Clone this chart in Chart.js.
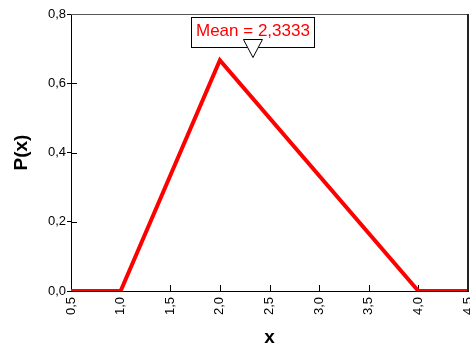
<!DOCTYPE html>
<html>
<head>
<meta charset="utf-8">
<script src="https://cdn.jsdelivr.net/npm/chart.js@4/dist/chart.umd.min.js"></script>
<style>
  html, body { margin: 0; padding: 0; background: #fff; }
  #c { display: block; }
</style>
</head>
<body>
<canvas id="c" width="470" height="347"></canvas>
<script>
// Triangular distribution: a = 1, c = 2, b = 4
const xValues = [0.5, 1.0, 2.0, 4.0, 4.5];
const probValues = [0, 0, 0.6667, 0, 0];
const xTickValues = [0.5, 1.0, 1.5, 2.0, 2.5, 3.0, 3.5, 4.0, 4.5];
const yTickValues = [0.0, 0.2, 0.4, 0.6, 0.8];
const meanValue = 2.3333;

const FONT = '"Liberation Sans", Arial, sans-serif';
const fmt = (v, d) => Number(v).toFixed(d).replace('.', ',');

// Inner tick marks and the top/right frame of the plot box
const framePlugin = {
  id: 'frame',
  beforeDatasetsDraw(chart) {
    const { ctx, chartArea: a, scales: { x, y } } = chart;
    ctx.save();
    ctx.strokeStyle = '#000';
    ctx.lineWidth = 1;
    ctx.beginPath();
    yTickValues.forEach(v => {
      const py = Math.round(y.getPixelForValue(v)) + 0.5;
      ctx.moveTo(a.left, py);
      ctx.lineTo(a.left + 6, py);
    });
    xTickValues.forEach(v => {
      const px = Math.round(x.getPixelForValue(v)) + 0.5;
      ctx.moveTo(px, a.bottom);
      ctx.lineTo(px, a.bottom - 6);
    });
    ctx.stroke();
    ctx.strokeStyle = '#555';
    ctx.beginPath();
    ctx.moveTo(a.left, Math.round(a.top) + 0.5);
    ctx.lineTo(a.right, Math.round(a.top) + 0.5);
    ctx.stroke();
    ctx.restore();
  },
  afterDatasetsDraw(chart) {
    const { ctx, chartArea: a } = chart;
    ctx.save();
    ctx.strokeStyle = '#222';
    ctx.lineWidth = 2;
    ctx.beginPath();
    ctx.moveTo(Math.round(a.right), a.top);
    ctx.lineTo(Math.round(a.right), a.bottom);
    ctx.stroke();
    ctx.restore();
  }
};

// Mean marker: labelled box with a pointer at the mean on the x scale
const meanPlugin = {
  id: 'meanMarker',
  afterDatasetsDraw(chart) {
    const { ctx, chartArea: a, scales: { x } } = chart;
    const px = x.getPixelForValue(meanValue);
    const label = 'Mean = ' + fmt(meanValue, 4);
    ctx.save();
    ctx.font = '17px ' + FONT;
    const tw = ctx.measureText(label).width;
    const boxW = Math.round(tw + 9);
    const boxL = Math.round(px - boxW / 2) + 0.5;
    const boxT = Math.round(a.top + 3) + 0.5;
    const boxH = 30;
    ctx.fillStyle = '#fff';
    ctx.fillRect(boxL, boxT, boxW, boxH);
    ctx.strokeStyle = '#000';
    ctx.lineWidth = 1;
    ctx.strokeRect(boxL, boxT, boxW, boxH);
    ctx.fillStyle = '#ff0000';
    ctx.textAlign = 'center';
    ctx.textBaseline = 'middle';
    ctx.fillText(label, px, boxT + 13.5);
    // pointer triangle
    const triTop = boxT + 22;
    ctx.beginPath();
    ctx.moveTo(px - 9.5, triTop);
    ctx.lineTo(px + 9.5, triTop);
    ctx.lineTo(px, triTop + 18);
    ctx.closePath();
    ctx.fillStyle = '#fff';
    ctx.fill();
    ctx.strokeStyle = '#000';
    ctx.stroke();
    ctx.restore();
  }
};

new Chart(document.getElementById('c'), {
  type: 'scatter',
  data: {
    datasets: [{
      data: xValues.map((v, i) => ({ x: v, y: probValues[i] })),
      showLine: true,
      borderColor: '#ff0000',
      borderWidth: 4,
      borderJoinStyle: 'miter',
      pointRadius: 0,
      pointHoverRadius: 0,
      fill: false,
      tension: 0
    }]
  },
  options: {
    responsive: false,
    animation: false,
    events: [],
    layout: { padding: { top: 14, right: 2, bottom: 0, left: 0 } },
    plugins: { legend: { display: false }, tooltip: { enabled: false } },
    scales: {
      x: {
        type: 'linear',
        min: 0.5,
        max: 4.5,
        afterBuildTicks: s => { s.ticks = xTickValues.map(v => ({ value: v })); },
        afterFit: s => { s.height = 56; s.paddingLeft = 0; s.paddingRight = 0; },
        grid: { drawOnChartArea: false, drawTicks: false },
        border: { display: true, color: '#000', width: 1 },
        ticks: {
          autoSkip: false,
          minRotation: 90,
          maxRotation: 90,
          padding: 6,
          color: '#000',
          font: { family: FONT, size: 13 },
          callback: v => fmt(v, 1)
        },
        title: {
          display: true,
          text: 'x',
          color: '#000',
          padding: 0,
          font: { family: FONT, size: 19, weight: 'bold', lineHeight: 1 }
        }
      },
      y: {
        min: 0,
        max: 0.8,
        afterBuildTicks: s => { s.ticks = yTickValues.map(v => ({ value: v })); },
        afterFit: s => { s.width = 71; },
        grid: { drawOnChartArea: false, drawTicks: true, tickLength: 4, color: '#000' },
        border: { display: true, color: '#000', width: 1 },
        ticks: {
          padding: 1,
          color: '#000',
          font: { family: FONT, size: 13 },
          callback: v => fmt(v, 1)
        },
        title: {
          display: true,
          text: 'P(x)',
          color: '#000',
          padding: { top: 12, bottom: 0 },
          font: { family: FONT, size: 19, weight: 'bold', lineHeight: 1 }
        }
      }
    }
  },
  plugins: [framePlugin, meanPlugin]
});
</script>
</body>
</html>
